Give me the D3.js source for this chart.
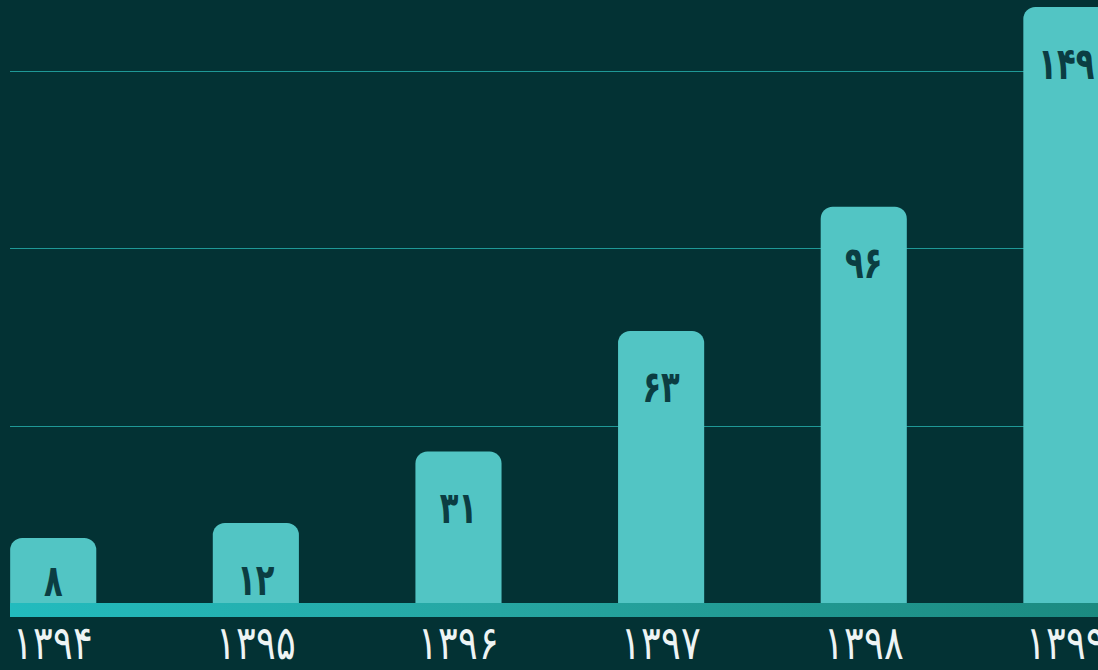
<!DOCTYPE html>
<html>
<head>
<meta charset="utf-8">
<script src="https://cdn.jsdelivr.net/npm/d3@7"></script>
<style>
  html, body { margin: 0; padding: 0; background: #033234; overflow: hidden; }
  svg { display: block; }
</style>
</head>
<body>
<script>
const years = ["۱۳۹۴", "۱۳۹۵", "۱۳۹۶", "۱۳۹۷", "۱۳۹۸", "۱۳۹۹"];
const values = [8, 12, 31, 63, 96, 149];
const valueLabels = ["۸", "۱۲", "۳۱", "۶۳", "۹۶", "۱۴۹"];

const width = 1098, height = 670;
const left = 10, base = 604;

const svg = d3.select("body")
  .append("svg")
  .attr("width", width)
  .attr("height", height);

// bands run past the right edge, last bar is cut off like the original
const x = d3.scaleBand()
  .domain(years)
  .range([left - 58, left - 58 + 202.6 * years.length])
  .paddingInner(0.575)
  .paddingOuter(0.287);

const yMin = -9.5, gridStep = 47.2;
const y = d3.scaleLinear()
  .domain([yMin, 150])
  .range([base, base - 159.5 * 3.766]);

// grid
const gridVals = d3.range(1, 4).map((k) => yMin + k * gridStep);
svg.selectAll(".grid")
  .data(gridVals)
  .enter()
  .append("line")
  .attr("class", "grid")
  .attr("x1", left)
  .attr("x2", width)
  .attr("y1", (d) => Math.round(y(d)) + 0.5)
  .attr("y2", (d) => Math.round(y(d)) + 0.5)
  .attr("stroke", "#1f9896")
  .attr("stroke-width", 1);

// bars
svg.selectAll(".bar")
  .data(values)
  .enter()
  .append("rect")
  .attr("class", "bar")
  .attr("x", (d, i) => x(years[i]))
  .attr("y", (d) => y(d))
  .attr("width", x.bandwidth())
  .attr("height", (d) => base + 13 - y(d))
  .attr("rx", 12)
  .attr("fill", "#52c5c4");

// baseline strip
const grad = svg.append("defs")
  .append("linearGradient")
  .attr("id", "strip")
  .attr("x1", "0%").attr("x2", "100%");
grad.append("stop").attr("offset", "0%").attr("stop-color", "#22bbbe");
grad.append("stop").attr("offset", "45%").attr("stop-color", "#26a6a2");
grad.append("stop").attr("offset", "100%").attr("stop-color", "#1b8a80");

svg.append("rect")
  .attr("x", left)
  .attr("y", base - 1)
  .attr("width", width - left)
  .attr("height", 14)
  .attr("fill", "url(#strip)");

// value labels (stretched a bit vertically, the original font is taller)
svg.selectAll(".val")
  .data(values)
  .enter()
  .append("text")
  .attr("class", "val")
  .attr("transform", (d, i) => {
    const cx = x(years[i]) + x.bandwidth() / 2;
    const cy = Math.min(y(d) + 56, base - 23);
    return `translate(${cx},${cy}) scale(1,1.3)`;
  })
  .attr("dy", "0.35em")
  .attr("text-anchor", "middle")
  .attr("font-family", "DejaVu Sans Condensed, DejaVu Sans, sans-serif")
  .attr("font-weight", "bold")
  .attr("font-size", 34)
  .attr("fill", "#0b3d42")
  .text((d, i) => valueLabels[i]);

// year labels
svg.selectAll(".year")
  .data(years)
  .enter()
  .append("text")
  .attr("class", "year")
  .attr("transform", (d) => `translate(${x(d) + x.bandwidth() / 2},659) scale(1,1.28)`)
  .attr("text-anchor", "middle")
  .attr("font-family", "DejaVu Sans, sans-serif")
  .attr("font-weight", 300)
  .attr("font-size", 37)
  .attr("fill", "#eef4f4")
  .text((d) => d);
</script>
</body>
</html>
